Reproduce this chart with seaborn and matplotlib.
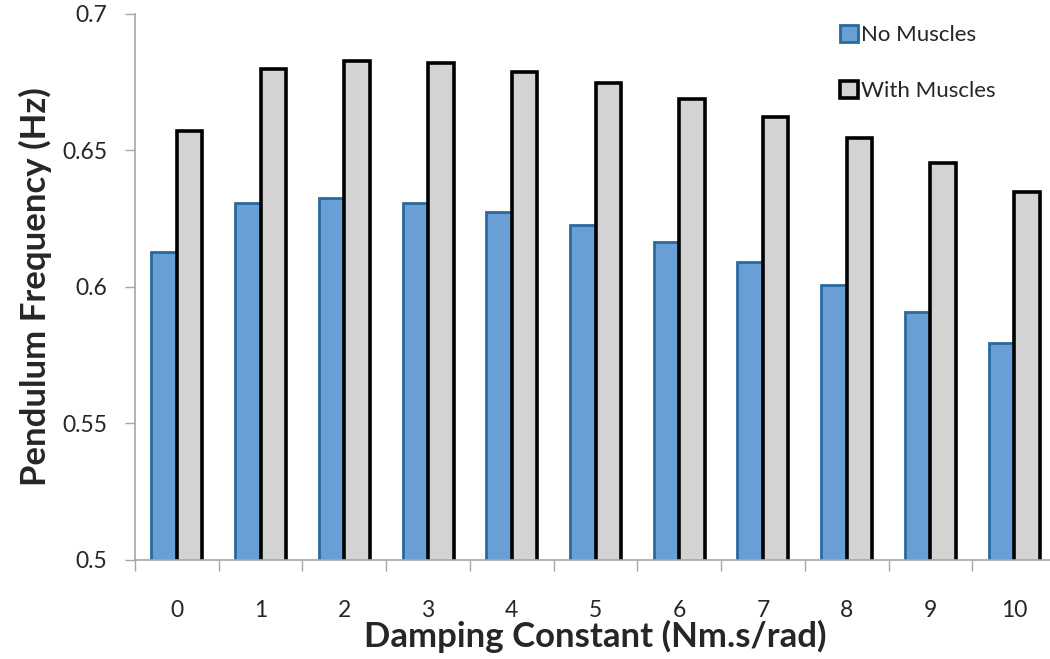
import numpy as np
import pandas as pd
import seaborn as sns
import matplotlib.pyplot as plt
from matplotlib.ticker import FixedLocator

# --- data ---
damping = ["0", "1", "2", "3", "4", "5", "6", "7", "8", "9", "10"]
no_muscles = [0.6128, 0.6305, 0.6324, 0.6308, 0.6272, 0.6226, 0.6165, 0.6092, 0.6006, 0.5908, 0.5793]
with_muscles = [0.6571, 0.6796, 0.6825, 0.6818, 0.6787, 0.6747, 0.6688, 0.6622, 0.6543, 0.6454, 0.6348]
series = ["No Muscles", "With Muscles"]

df = pd.DataFrame({
    "damping": damping * 2,
    "freq": no_muscles + with_muscles,
    "condition": [series[0]] * len(damping) + [series[1]] * len(damping),
})

sns.set_style("white")
plt.rcParams["font.family"] = ["Lato", "DejaVu Sans"]

fig = plt.figure(figsize=(10.5, 6.59), dpi=100)
ax = fig.add_axes([135 / 1050, 1 - 560 / 659, 921 / 1050, (560 - 13.5) / 659])

sns.barplot(
    data=df, x="damping", y="freq", hue="condition",
    palette=["#6a9fd6", "#d3d3d3"], width=0.61, gap=0,
    linewidth=2, saturation=1, ax=ax, legend=False,
)

# edge colours per series
edges = ["#2a6a9c", "black"]
widths = [2.0, 2.6]
for cont, ec, lw in zip(ax.containers, edges, widths):
    for bar in cont:
        bar.set_edgecolor(ec)
        bar.set_linewidth(lw)

ax.set_ylim(0.5, 0.7)
ax.set_xlim(-0.5, 10.5)
ax.set_yticks([0.5, 0.55, 0.6, 0.65, 0.7])
ax.set_yticklabels(["0.5", "0.55", "0.6", "0.65", "0.7"])

# ticks between categories like excel
ax.xaxis.set_minor_locator(FixedLocator(np.arange(-0.5, 11, 1)))
ax.tick_params(axis="x", which="major", length=0, pad=29, labelsize=16.5, labelcolor="#262626")
ax.tick_params(axis="x", which="minor", length=8, width=1, color="#a6a6a6", direction="out", bottom=True)
ax.tick_params(axis="y", length=7, width=1, color="#a6a6a6", direction="out", left=True,
               labelsize=16.5, labelcolor="#262626", pad=13)

sns.despine(ax=ax)
for s in ["left", "bottom"]:
    ax.spines[s].set_color("#a6a6a6")
    ax.spines[s].set_linewidth(1.2)

ax.set_xlabel("Damping Constant (Nm.s/rad)", fontsize=25, fontweight="bold")
ax.set_ylabel("Pendulum Frequency (Hz)", fontsize=25, fontweight="bold")
ax.xaxis.set_label_coords(0.5, -0.109)
ax.yaxis.set_label_coords(-0.090, 0.5)

leg = ax.legend(
    ax.containers, series,
    loc="upper left", bbox_to_anchor=(829 / 1050, 1 - 14 / 659), bbox_transform=fig.transFigure,
    frameon=False, fontsize=16, handlelength=0.8, handleheight=0.8,
    handletextpad=0.15, labelspacing=1.6, borderpad=0,
)

fig.savefig("out.png", dpi=100)
